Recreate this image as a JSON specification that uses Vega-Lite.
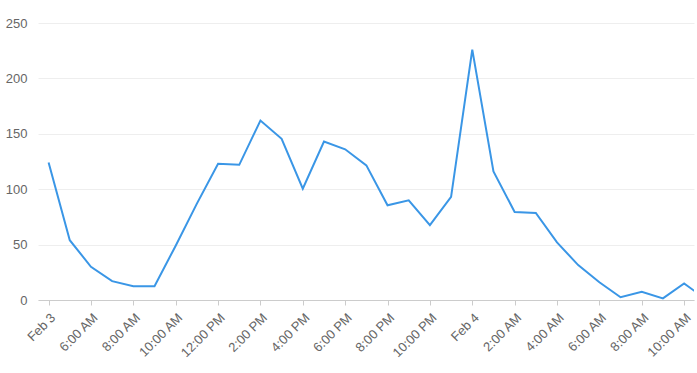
{
  "$schema": "https://vega.github.io/schema/vega-lite/v6.json",
  "autosize": "none",
  "width": 656,
  "height": 277,
  "padding": {"left": 38, "top": 23, "right": 3, "bottom": 73},
  "background": "#ffffff",
  "config": {"view": {"stroke": null}, "font": "Liberation Sans"},
  "data": {
    "values": [
      {"t": "2021-02-03T04:00:00", "v": 124},
      {"t": "2021-02-03T05:00:00", "v": 54},
      {"t": "2021-02-03T06:00:00", "v": 30},
      {"t": "2021-02-03T07:00:00", "v": 17},
      {"t": "2021-02-03T08:00:00", "v": 12.5},
      {"t": "2021-02-03T09:00:00", "v": 12.5},
      {"t": "2021-02-03T10:00:00", "v": 49},
      {"t": "2021-02-03T11:00:00", "v": 87},
      {"t": "2021-02-03T12:00:00", "v": 123},
      {"t": "2021-02-03T13:00:00", "v": 122},
      {"t": "2021-02-03T14:00:00", "v": 162},
      {"t": "2021-02-03T15:00:00", "v": 145.5},
      {"t": "2021-02-03T16:00:00", "v": 100.5},
      {"t": "2021-02-03T17:00:00", "v": 143},
      {"t": "2021-02-03T18:00:00", "v": 136},
      {"t": "2021-02-03T19:00:00", "v": 121.5},
      {"t": "2021-02-03T20:00:00", "v": 85.5},
      {"t": "2021-02-03T21:00:00", "v": 90},
      {"t": "2021-02-03T22:00:00", "v": 67.5},
      {"t": "2021-02-03T23:00:00", "v": 93},
      {"t": "2021-02-04T00:00:00", "v": 226},
      {"t": "2021-02-04T01:00:00", "v": 116},
      {"t": "2021-02-04T02:00:00", "v": 79.5},
      {"t": "2021-02-04T03:00:00", "v": 78.5},
      {"t": "2021-02-04T04:00:00", "v": 52},
      {"t": "2021-02-04T05:00:00", "v": 31.5},
      {"t": "2021-02-04T06:00:00", "v": 16},
      {"t": "2021-02-04T07:00:00", "v": 2.5},
      {"t": "2021-02-04T08:00:00", "v": 7.5},
      {"t": "2021-02-04T09:00:00", "v": 1.5},
      {"t": "2021-02-04T10:00:00", "v": 15},
      {"t": "2021-02-04T11:00:00", "v": 1}
    ]
  },
  "mark": {"type": "line", "color": "#3a96e6", "strokeWidth": 2, "clip": true},
  "encoding": {
    "x": {
      "field": "t",
      "type": "temporal",
      "scale": {
        "domain": [
          {"year": 2021, "month": 2, "date": 3, "hours": 3, "minutes": 30},
          {"year": 2021, "month": 2, "date": 4, "hours": 10, "minutes": 28}
        ]
      },
      "axis": {
        "title": null,
        "grid": false,
        "values": [
          {"year": 2021, "month": 2, "date": 3, "hours": 4},
          {"year": 2021, "month": 2, "date": 3, "hours": 6},
          {"year": 2021, "month": 2, "date": 3, "hours": 8},
          {"year": 2021, "month": 2, "date": 3, "hours": 10},
          {"year": 2021, "month": 2, "date": 3, "hours": 12},
          {"year": 2021, "month": 2, "date": 3, "hours": 14},
          {"year": 2021, "month": 2, "date": 3, "hours": 16},
          {"year": 2021, "month": 2, "date": 3, "hours": 18},
          {"year": 2021, "month": 2, "date": 3, "hours": 20},
          {"year": 2021, "month": 2, "date": 3, "hours": 22},
          {"year": 2021, "month": 2, "date": 4, "hours": 0},
          {"year": 2021, "month": 2, "date": 4, "hours": 2},
          {"year": 2021, "month": 2, "date": 4, "hours": 4},
          {"year": 2021, "month": 2, "date": 4, "hours": 6},
          {"year": 2021, "month": 2, "date": 4, "hours": 8},
          {"year": 2021, "month": 2, "date": 4, "hours": 10}
        ],
        "labelExpr": "datum.index == 0 || hours(datum.value) == 0 ? timeFormat(datum.value, '%b %-d') : timeFormat(datum.value, '%-I:%M %p')",
        "labelAngle": -45,
        "labelAlign": "right",
        "labelBaseline": "top",
        "labelFontSize": 13,
        "labelColor": "#666666",
        "labelPadding": 6,
        "domainColor": "#cccccc",
        "tickColor": "#cccccc",
        "tickSize": 5,
        "labelOverlap": false,
        "labelFlush": false
      }
    },
    "y": {
      "field": "v",
      "type": "quantitative",
      "scale": {"domain": [0, 250], "nice": false},
      "axis": {
        "title": null,
        "values": [0, 50, 100, 150, 200, 250],
        "domain": false,
        "ticks": false,
        "gridColor": "#eeeeee",
        "labelFontSize": 13,
        "labelColor": "#666666",
        "labelPadding": 11
      }
    }
  }
}
